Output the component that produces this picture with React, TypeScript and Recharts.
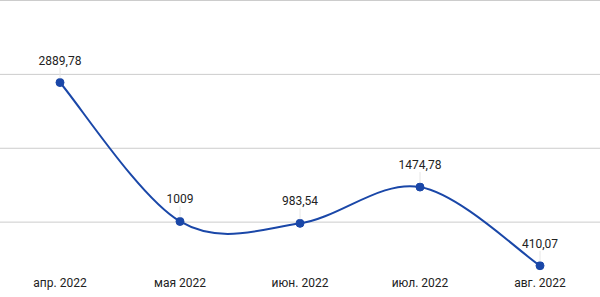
import { LineChart, Line, XAxis, YAxis, CartesianGrid, LabelList } from "recharts";

const months = ["апр. 2022", "мая 2022", "июн. 2022", "июл. 2022", "авг. 2022"];
const amounts = [2889.78, 1009, 983.54, 1474.78, 410.07];
const amountLabels = ["2889,78", "1009", "983,54", "1474,78", "410,07"];
const yTicks = [1000, 2000, 3000, 4000];

const data = months.map((m, i) => ({ month: m, amount: amounts[i], label: amountLabels[i] }));

const LINE = "#1a47a8";
const FONT = "Roboto, Arial, sans-serif";

// catmull-rom style smoothing, close to the "function" curve of the source
function smoothCurve(context: any) {
    let pts: [number, number][] = [];
    return {
        areaStart() {},
        areaEnd() {},
        lineStart() {
            pts = [];
        },
        point(x: number, y: number) {
            pts.push([+x, +y]);
        },
        lineEnd() {
            if (!pts.length) return;
            context.moveTo(pts[0][0], pts[0][1]);
            for (let i = 0; i < pts.length - 1; i++) {
                const p0 = pts[i - 1] || pts[i];
                const p1 = pts[i];
                const p2 = pts[i + 1];
                const p3 = pts[i + 2] || p2;
                const c1x = p1[0] + (p2[0] - p0[0]) / 6;
                const c1y = p1[1] + (p2[1] - p0[1]) / 6;
                const c2x = p2[0] - (p3[0] - p1[0]) / 6;
                const c2y = p2[1] - (p3[1] - p1[1]) / 6;
                context.bezierCurveTo(c1x, c1y, c2x, c2y, p2[0], p2[1]);
            }
        },
    };
}

function ValueLabel(props: any) {
    const { x, y, value } = props;
    return (
        <g>
            <line x1={x} x2={x} y1={y - 15} y2={y - 4} stroke="#e6e6e6" strokeWidth={1} />
            <text x={x} y={y - 18} textAnchor="middle" fill="#222" fontSize={12} fontFamily={FONT}>
                {value}
            </text>
        </g>
    );
}

function MonthTick(props: any) {
    const { x, payload } = props;
    return (
        <text x={x} y={287} textAnchor="middle" fill="#222" fontSize={12} fontFamily={FONT}>
            {payload.value}
        </text>
    );
}

export default function App() {
    return (
        <div style={{ position: "fixed", left: 0, top: 0, background: "#fff" }}>
            <LineChart width={600} height={297} data={data} margin={{ top: 0.5, right: 0, bottom: 0, left: 0 }}>
                <CartesianGrid vertical={false} stroke="#cccccc" horizontalValues={yTicks} />
                <XAxis
                    dataKey="month"
                    height={1}
                    padding={{ left: 60, right: 60 }}
                    axisLine={false}
                    tickLine={false}
                    tick={<MonthTick />}
                    interval={0}
                />
                <YAxis hide domain={[0, 4000]} ticks={yTicks} />
                <Line
                    dataKey="amount"
                    type={smoothCurve as any}
                    stroke={LINE}
                    strokeWidth={2}
                    dot={{ r: 4, fill: LINE, stroke: LINE, strokeWidth: 1 }}
                    activeDot={false}
                    isAnimationActive={false}
                >
                    <LabelList dataKey="label" content={<ValueLabel />} />
                </Line>
            </LineChart>
        </div>
    );
}
